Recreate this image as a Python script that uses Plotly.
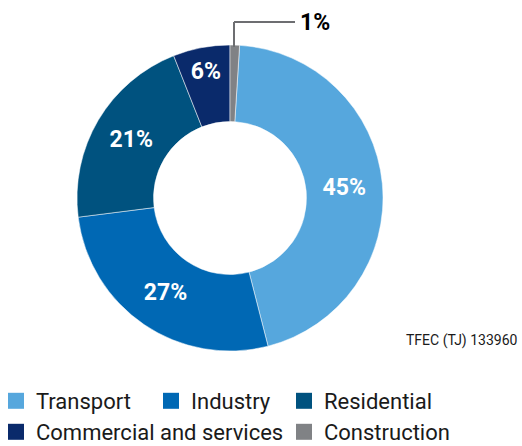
import plotly.graph_objects as go

categories = ["Transport", "Industry", "Residential", "Commercial and services", "Construction"]
values = [45, 27, 21, 6, 1]
slice_labels = ["45%", "27%", "21%", "6%", ""]
colors = ["#56A7DD", "#0068B4", "#00527F", "#0A2A6B", "#808285"]
total_label = "TFEC (TJ) 133960"
small_label = "1%"

W, H = 522, 446

def px(x):
    return x / W

def py(y):
    return 1 - y / H

cx, cy, R = 230, 198, 153

fig = go.Figure()
fig.add_trace(go.Pie(
    labels=categories,
    values=values,
    text=slice_labels,
    texttemplate="%{text}",
    textinfo="text",
    textposition="inside",
    insidetextorientation="horizontal",
    textfont=dict(family="Roboto", size=23, color="white", weight="bold"),
    marker=dict(colors=colors, line=dict(width=0.5, color="white")),
    hole=0.5,
    sort=False,
    direction="clockwise",
    rotation=3.6,
    domain=dict(x=[px(cx - R), px(cx + R)], y=[py(cy + R), py(cy - R)]),
    showlegend=False,
))

# legend entries (one legend per entry so they sit like the reference)
legend_pos = [(18, 401), (173, 401), (306, 401), (18, 432), (306, 432)]
legend_names = ["legend", "legend2", "legend3", "legend4", "legend5"]
legend_layout = {}
for name, col, lname, (lx, ly) in zip(categories, colors, legend_names, legend_pos):
    fig.add_trace(go.Scatter(
        x=[None], y=[None], mode="markers", name=name,
        marker=dict(symbol="square", size=17, color=col, line=dict(width=0)),
        legend=lname, showlegend=True, hoverinfo="skip",
    ))
    legend_layout[lname] = dict(
        orientation="h", x=px(lx - 22), xanchor="left", y=py(ly), yanchor="middle",
        font=dict(family="Roboto", size=22, color="#1a1a1a"),
        bgcolor="rgba(0,0,0,0)", borderwidth=0, itemclick=False, itemdoubleclick=False,
    )

# leader line for the small slice
fig.add_shape(type="line", xref="paper", yref="paper",
              x0=px(234), y0=py(47), x1=px(234), y1=py(22),
              line=dict(color="#6d6e71", width=2))
fig.add_shape(type="line", xref="paper", yref="paper",
              x0=px(234), y0=py(22), x1=px(295), y1=py(22),
              line=dict(color="#6d6e71", width=2))
fig.add_annotation(text=small_label, xref="paper", yref="paper",
                   x=px(298), y=py(22), xanchor="left", yanchor="middle",
                   showarrow=False,
                   font=dict(family="Roboto", size=23, color="black", weight="bold"))
fig.add_annotation(text=total_label, xref="paper", yref="paper",
                   x=px(520), y=py(340), xanchor="right", yanchor="middle",
                   showarrow=False,
                   font=dict(family="Roboto", size=14, color="#1a1a1a"))

fig.update_layout(
    width=W, height=H,
    margin=dict(l=0, r=0, t=0, b=0, autoexpand=False),
    paper_bgcolor="white",
    plot_bgcolor="white",
    xaxis=dict(visible=False),
    yaxis=dict(visible=False),
    **legend_layout,
)

fig.write_html(
    "out.html",
    config={"displayModeBar": False},
    post_script="document.body.style.margin='0';document.body.style.overflow='hidden';",
)
